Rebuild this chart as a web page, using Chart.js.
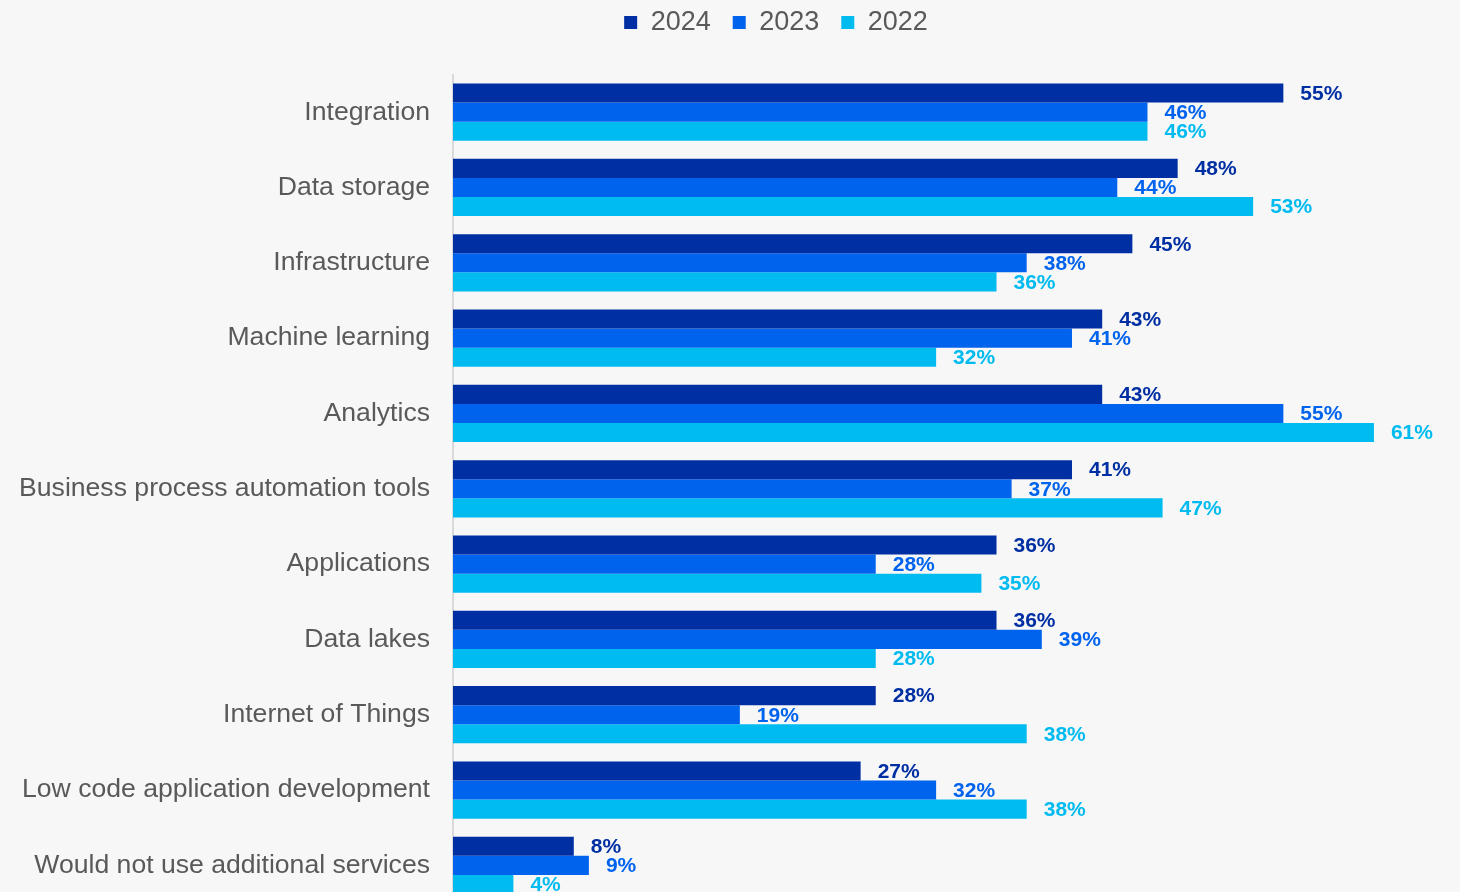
<!DOCTYPE html>
<html>
<head>
<meta charset="utf-8">
<script src="https://cdn.jsdelivr.net/npm/chart.js@4/dist/chart.umd.min.js"></script>
<style>
  html, body { margin: 0; padding: 0; background: #f7f7f7; overflow: hidden; }
  canvas { display: block; }
</style>
</head>
<body>
<canvas id="Main_Chart" width="1460" height="934"></canvas>
<script>
const Categories = [
    "Integration", "Data storage", "Infrastructure", "Machine learning", "Analytics",
    "Business process automation tools", "Applications", "Data lakes",
    "Internet of Things", "Low code application development", "Would not use additional services"
];
const Values_2024 = [55, 48, 45, 43, 43, 41, 36, 36, 28, 27, 8];
const Values_2023 = [46, 44, 38, 41, 55, 37, 28, 39, 19, 32, 9];
const Values_2022 = [46, 53, 36, 32, 61, 47, 35, 28, 38, 38, 4];

const Series_Colors = { "2024": "#002fa3", "2023": "#0063ee", "2022": "#00bbf0" };
const Text_Color = "#595959";

// value labels drawn just past the end of each bar
const Bar_Labels = {
    id: "Bar_Labels",
    afterDatasetsDraw(chart) {
        const ctx = chart.ctx;
        ctx.save();
        ctx.font = "bold 21px 'Liberation Sans', Arial, sans-serif";
        ctx.textAlign = "left";
        ctx.textBaseline = "middle";
        chart.data.datasets.forEach(function (ds, i) {
            const Meta = chart.getDatasetMeta(i);
            ctx.fillStyle = ds.backgroundColor;
            Meta.data.forEach(function (Bar, j) {
                ctx.fillText(ds.data[j] + "%", Bar.x + 17, Bar.y + 1);
            });
        });
        ctx.restore();
    }
};

new Chart(document.getElementById("Main_Chart"), {
    type: "bar",
    data: {
        labels: Categories,
        datasets: [
            { label: "2024", data: Values_2024, backgroundColor: Series_Colors["2024"] },
            { label: "2023", data: Values_2023, backgroundColor: Series_Colors["2023"] },
            { label: "2022", data: Values_2022, backgroundColor: Series_Colors["2022"] }
        ]
    },
    options: {
        indexAxis: "y",
        responsive: false,
        animation: false,
        // negative right padding pushes the legend centre to the right, like the original
        layout: { padding: { top: -13, right: -92, bottom: 0, left: 0 } },
        datasets: { bar: { categoryPercentage: 0.76, barPercentage: 1.0 } },
        scales: {
            x: {
                position: "top",
                min: 0,
                max: 66.7,
                grid: { display: false },
                border: { display: false },
                ticks: { display: false },
                afterFit: function (Scale) { Scale.height = 28.5; }
            },
            y: {
                grid: { display: false },
                border: { display: true, color: "#d9d9d9", width: 2 },
                ticks: {
                    color: Text_Color,
                    padding: 15,
                    font: { family: "'Liberation Sans', Arial, sans-serif", size: 26.6 }
                },
                afterFit: function (Scale) { Scale.width = 453; }
            }
        },
        plugins: {
            legend: {
                position: "top",
                labels: {
                    color: Text_Color,
                    boxWidth: 13,
                    boxHeight: 13,
                    padding: 22,
                    font: { family: "'Liberation Sans', Arial, sans-serif", size: 27 }
                }
            },
            tooltip: { enabled: false }
        }
    },
    plugins: [Bar_Labels]
});
</script>
</body>
</html>
